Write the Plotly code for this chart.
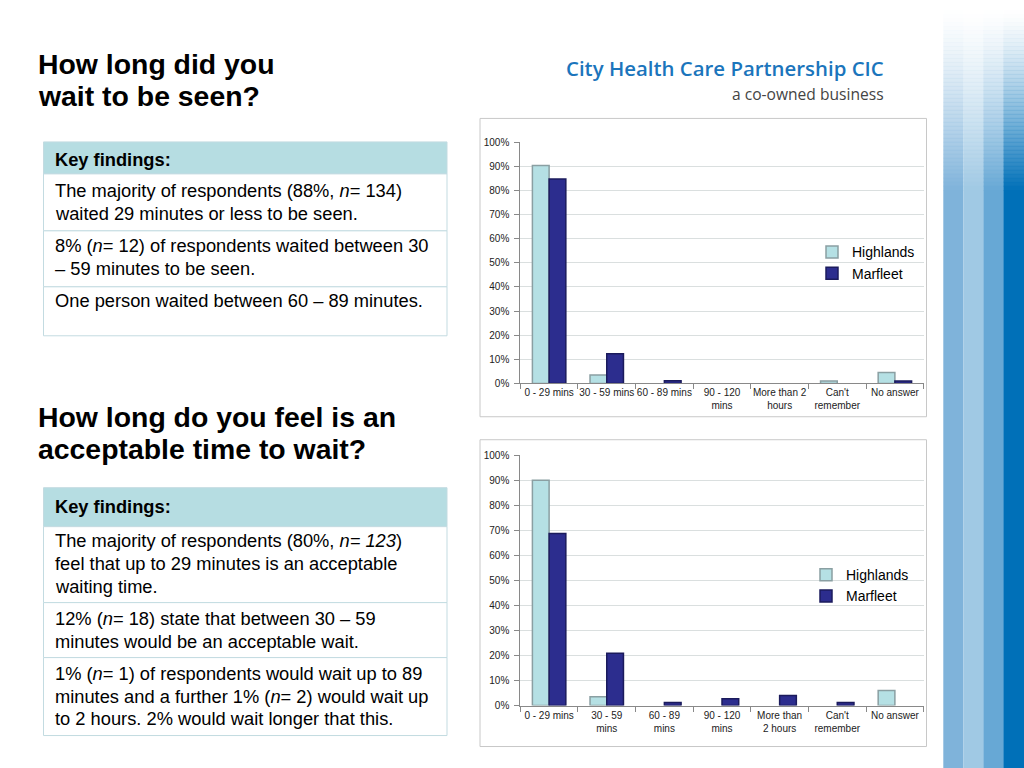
import plotly.graph_objects as go

# ---------------- data ----------------
categories = ["0-29", "30-59", "60-89", "90-120", "2h+", "cant", "none"]
ticks_top = ["0 - 29 mins", "30 - 59 mins", "60 - 89 mins", "90 - 120<br>mins",
             "More than 2<br>hours", "Can't<br>remember", "No answer"]
ticks_bottom = ["0 - 29 mins", "30 - 59<br>mins", "60 - 89<br>mins", "90 - 120<br>mins",
                "More than<br>2 hours", "Can't<br>remember", "No answer"]

seen_highlands = [90.3, 3.5, 0, 0, 0, 1.0, 4.5]
seen_marfleet = [84.7, 12.3, 1.1, 0, 0, 0, 1.0]
accept_highlands = [90.1, 3.5, 0, 0, 0, 0, 6.0]
accept_marfleet = [68.8, 20.9, 1.2, 2.7, 4.0, 1.2, 0]

series_names = ["Highlands", "Marfleet"]

title_top = ["How long did you", "wait to be seen?"]
title_bottom = ["How long do you feel is an", "acceptable time to wait?"]

table1_rows = [
    ["<b>Key findings:</b>"],
    ["The majority of respondents (88%, <i>n</i>= 134)", "waited 29 minutes or less to be seen."],
    ["8% (<i>n</i>= 12) of respondents waited between 30", "– 59 minutes to be seen."],
    ["One person waited between 60 – 89 minutes."],
]
table2_rows = [
    ["<b>Key findings:</b>"],
    ["The majority of respondents (80%, <i>n= 123</i>)", "feel that up to 29 minutes is an acceptable",
     "waiting time."],
    ["12% (<i>n</i>= 18) state that between 30 – 59", "minutes would be an acceptable wait."],
    ["1% (<i>n</i>= 1) of respondents would wait up to 89",
     "minutes and a further 1% (<i>n</i>= 2) would wait up", "to 2 hours. 2% would wait longer that this."],
]

# ---------------- helpers (pixel -> paper) ----------------
W, H = 1024, 768
# the photographed page shows the figure slightly squeezed vertically; compensate
V_SCALE, V_OFF = 0.985, 6.0
def X(px): return px / W
def Y(py): return 1 - ((py - V_OFF) / V_SCALE) / H

FONT = "Liberation Sans, Arial, sans-serif"
HL_FILL, HL_LINE = "#b5e0e4", "#8a9fa2"
MF_FILL, MF_LINE = "#2c2d8e", "#1b1b5c"

fig = go.Figure()

def add_bars(xa, ya, hl, mf, legend):
    fig.add_trace(go.Bar(x=categories, y=hl, name=series_names[0], xaxis=xa, yaxis=ya,
                         marker=dict(color=HL_FILL,
                                     line=dict(color=HL_LINE, width=[1.5 if v > 0 else 0 for v in hl])),
                         legend=legend))
    fig.add_trace(go.Bar(x=categories, y=mf, name=series_names[1], xaxis=xa, yaxis=ya,
                         marker=dict(color=MF_FILL,
                                     line=dict(color=MF_LINE, width=[1.5 if v > 0 else 0 for v in mf])),
                         legend=legend))

add_bars("x", "y", seen_highlands, seen_marfleet, "legend")
add_bars("x2", "y2", accept_highlands, accept_marfleet, "legend2")

def xaxis_cfg(dom, ticktext, anchor):
    return dict(domain=dom, anchor=anchor, type="category", categoryorder="array",
                categoryarray=categories, tickvals=categories, ticktext=ticktext,
                tickson="boundaries", ticks="outside", ticklen=5, tickcolor="#898989",
                showline=True, linecolor="#898989", linewidth=1, showgrid=False, tickangle=0,
                tickfont=dict(family=FONT, size=10, color="#222222"), fixedrange=True)

def yaxis_cfg(dom, anchor):
    return dict(domain=dom, anchor=anchor, range=[0, 100], dtick=10, ticksuffix="%",
                ticks="outside", ticklen=5, tickcolor="#898989", showline=True,
                linecolor="#898989", linewidth=1, showgrid=True, gridcolor="#dadfdf",
                zeroline=False, tickfont=dict(family=FONT, size=10, color="#222222"),
                ticklabelstandoff=3, fixedrange=True)

shapes = []
annotations = []

# decorative right stripes with top fade
stripe_x = [943.3, 963.3, 983.3, 1003.3, 1024]
stripe_colors = ["#7fb3da", "#a0c9e4", "#67a8d5", "#0070b8"]
for i, col in enumerate(stripe_colors):
    x0, x1 = stripe_x[i], stripe_x[i + 1]
    n = 45
    y_start, y_end = 10, 190
    step = (y_end - y_start) / n
    for k in range(n):
        op = ((k + 0.5) / n) ** 1.3
        shapes.append(dict(type="rect", xref="paper", yref="paper", x0=X(x0), x1=X(x1),
                           y0=Y(y_start + (k + 1) * step + 0.3), y1=Y(y_start + k * step),
                           fillcolor=col, opacity=op, line=dict(width=0), layer="below"))
    shapes.append(dict(type="rect", xref="paper", yref="paper", x0=X(x0), x1=X(x1),
                       y0=-0.05, y1=Y(y_end), fillcolor=col, line=dict(width=0), layer="below"))

# chart frames
for (t, b) in [(118.5, 417), (440, 747)]:
    shapes.append(dict(type="rect", xref="paper", yref="paper", x0=X(480), x1=X(926.5),
                       y0=Y(b), y1=Y(t), line=dict(color="#c8c8c8", width=1),
                       fillcolor="rgba(0,0,0,0)", layer="below"))

# tables
BORDER = "#c3dbe1"
HEADER = "#b6dde2"
BODY_SIZE = 18.3
def add_table(rows, bounds, centers):
    for r, (t, b) in enumerate(bounds):
        shapes.append(dict(type="rect", xref="paper", yref="paper", x0=X(43.5), x1=X(447),
                           y0=Y(b), y1=Y(t), line=dict(color=BORDER, width=1),
                           fillcolor=HEADER if r == 0 else "white", layer="below"))
        for line_txt, cy in zip(rows[r], centers[r]):
            annotations.append(dict(xref="paper", yref="paper", x=X(52.5), y=Y(cy),
                                    xanchor="left", yanchor="middle", showarrow=False,
                                    text=line_txt, font=dict(family=FONT, size=BODY_SIZE, color="#000000")))

add_table(table1_rows, [(142, 174), (174, 231), (231, 287), (287, 336)],
          [[160], [190.7, 213.3], [245.7, 268.3], [300.7]])
add_table(table2_rows, [(488, 527), (527, 603), (603, 658), (658, 736)],
          [[507.3], [540.7, 564, 586.7], [619, 641.7], [674, 696.7, 719]])

# titles
TITLE_SIZE = 28.4
for txt, cy in zip(title_top, [64, 96]):
    annotations.append(dict(xref="paper", yref="paper", x=X(35.5), y=Y(cy), xanchor="left",
                            yanchor="middle", showarrow=False, text="<b>" + txt + "</b>",
                            font=dict(family=FONT, size=TITLE_SIZE, color="#000000")))
for txt, cy in zip(title_bottom, [417.5, 449]):
    annotations.append(dict(xref="paper", yref="paper", x=X(35.5), y=Y(cy), xanchor="left",
                            yanchor="middle", showarrow=False, text="<b>" + txt + "</b>",
                            font=dict(family=FONT, size=TITLE_SIZE, color="#000000")))

# logo text
annotations.append(dict(xref="paper", yref="paper", x=X(886), y=Y(68), xanchor="right",
                        yanchor="middle", showarrow=False, text="City Health Care Partnership CIC",
                        font=dict(family="Open Sans, sans-serif", size=20.4, color="#1b75bc", weight=600)))
annotations.append(dict(xref="paper", yref="paper", x=X(886), y=Y(94), xanchor="right",
                        yanchor="middle", showarrow=False, text="a co-owned business",
                        font=dict(family="Open Sans, sans-serif", size=15.6, color="#444444")))

legend_common = dict(bgcolor="rgba(0,0,0,0)", font=dict(family=FONT, size=14, color="#000000"),
                     xanchor="left", yanchor="middle", itemclick=False, itemdoubleclick=False)

fig.update_layout(
    width=W, height=H, margin=dict(l=0, r=0, t=0, b=0),
    paper_bgcolor="white", plot_bgcolor="white",
    barmode="group", bargap=0.42, bargroupgap=0,
    xaxis=xaxis_cfg([X(520.3), X(923.7)], ticks_top, "y"),
    yaxis=yaxis_cfg([Y(383.7), Y(142.3)], "x"),
    xaxis2=xaxis_cfg([X(520.3), X(923.7)], ticks_bottom, "y2"),
    yaxis2=yaxis_cfg([Y(706), Y(455.7)], "x2"),
    legend=dict(x=X(812), y=Y(263), **legend_common),
    legend2=dict(x=X(806), y=Y(586), **legend_common),
    shapes=shapes, annotations=annotations, showlegend=True,
)

post = (
    "document.documentElement.style.margin='0';"
    "document.body.style.margin='0';"
    "document.body.style.overflow='hidden';"
)
fig.write_html("out.html", config={"displayModeBar": False}, post_script=post)
